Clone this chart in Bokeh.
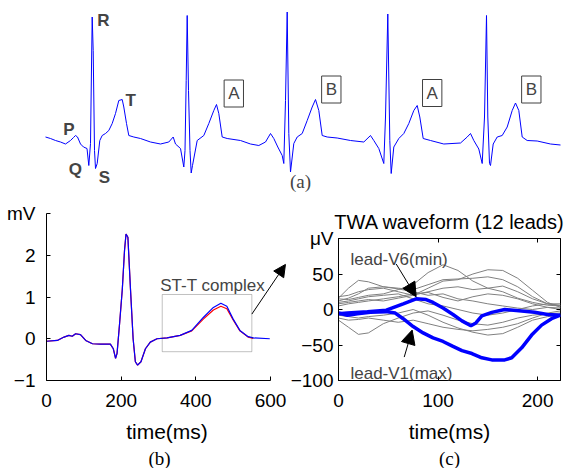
from bokeh.plotting import figure
from bokeh.models import Range1d, Label, Arrow, NormalHead, BoxAnnotation, FixedTicker, LinearAxis, Title
from bokeh.layouts import column, row
from bokeh.embed import file_html
from bokeh.resources import INLINE

FONT = "Liberation Sans"
SERIF = "Liberation Serif"
BLUE = "#0000ff"
RED = "#ff0000"
GRAY = "#808080"

# ---------------- (a) raw ECG strip ----------------
ecg_t = [0, 50, 100, 150, 200, 250, 280, 300, 320, 350,
         380, 415, 433, 450, 460, 467, 477, 490, 500, 517,
         543, 567, 600, 633, 667, 700, 733, 767, 783, 810,
         833, 883, 950, 1050, 1150, 1233, 1277, 1300, 1350, 1383,
         1395, 1407, 1417, 1430, 1445, 1457, 1470, 1517, 1583, 1633,
         1683, 1710, 1733, 1767, 1817, 1950, 2050, 2133, 2200, 2250,
         2283, 2323, 2367, 2383, 2400, 2417, 2433, 2450, 2483, 2517,
         2567, 2617, 2667, 2700, 2733, 2767, 2817, 2917, 3050, 3183,
         3250, 3283, 3333, 3383, 3400, 3423, 3443, 3457, 3483, 3533,
         3583, 3633, 3683, 3717, 3743, 3777, 3850, 3983, 4150, 4217,
         4250, 4283, 4333, 4367, 4390, 4410, 4423, 4440, 4450, 4477,
         4517, 4567, 4617, 4667, 4700, 4733, 4767, 4817, 4917, 5050,
         5150]
ecg_mv = [0.07, 0.04, 0.0, -0.03, -0.07, 0.0, 0.06, 0.10, 0.07, -0.07,
          -0.13, -0.16, -0.50, -0.06, 1.47, 2.47, 1.80, -0.20, -0.56, -0.46,
          0.0, 0.10, 0.14, 0.20, 0.34, 0.54, 0.80, 0.82, 0.67, 0.34,
          0.10, 0.07, 0.04, -0.03, -0.07, -0.03, 0.07, -0.07, -0.16, -0.53,
          -0.20, 1.20, 2.50, 1.00, -0.20, -0.65, -0.50, 0.0, 0.10, 0.34,
          0.60, 0.72, 0.54, 0.07, 0.04, 0.0, -0.07, -0.10, -0.03, 0.14,
          0.04, -0.13, -0.30, -0.46, 0.80, 2.57, 0.14, -0.63, -0.06, 0.07,
          0.14, 0.40, 0.67, 0.82, 0.60, 0.10, 0.07, 0.05, 0.0, -0.03,
          0.10, 0.0, -0.16, -0.46, 0.47, 2.53, 0.0, -0.66, -0.13, 0.04,
          0.14, 0.34, 0.60, 0.70, 0.47, 0.04, 0.0, -0.07, -0.05, 0.07,
          0.14, 0.0, -0.17, -0.46, 0.47, 2.50, 0.47, -0.46, -0.50, -0.07,
          0.07, 0.10, 0.27, 0.60, 0.75, 0.60, 0.07, 0.0, -0.01, -0.07,
          -0.09]
wave_names = ["P", "Q", "R", "S", "T"]
wave_t = [177, 233, 517, 533, 800]
wave_mv = [0.23, -0.58, 2.40, -0.73, 0.81]
alt_names = ["A", "B", "A", "B"]
alt_t = [1883, 2858, 3867, 4858]
alt_mv = [0.94, 1.02, 0.95, 1.02]

# ---------------- (b) averaged beat ----------------
beat_t = [0, 29, 47, 60, 69, 78, 91, 105, 123, 145,
          171, 179, 185, 189, 196, 203, 209, 213, 218, 225,
          232, 238, 244, 253, 265, 278, 296, 323, 358, 389,
          420, 447, 467, 483, 500, 518, 540, 554, 598]
beat_blue = [-0.06, -0.04, 0.04, 0.08, 0.06, 0.12, 0.10, -0.04, -0.12, -0.13,
             -0.13, -0.24, -0.47, -0.35, 0.39, 1.18, 2.12, 2.51, 2.43, 1.18,
             0.0, -0.55, -0.63, -0.55, -0.24, -0.08, 0.0, 0.02, 0.08, 0.20,
             0.51, 0.75, 0.85, 0.78, 0.47, 0.20, 0.05, 0.02, 0.0]
beat_red = [-0.06, -0.04, 0.04, 0.08, 0.06, 0.12, 0.10, -0.04, -0.12, -0.13,
            -0.13, -0.24, -0.47, -0.35, 0.39, 1.18, 2.12, 2.51, 2.43, 1.18,
            0.0, -0.55, -0.63, -0.55, -0.24, -0.08, 0.0, 0.02, 0.08, 0.19,
            0.47, 0.69, 0.78, 0.72, 0.45, 0.19, 0.04, 0.01]
st_box = dict(left=310, right=550, bottom=-0.31, top=1.06)
b_xticks = [0, 200, 400, 600]
b_yticks = [-1, 0, 1, 2, 3]

# ---------------- (c) TWA waveforms ----------------
c_x = [0, 10, 20, 30, 45, 60, 75, 90, 105, 120, 135, 150, 165, 180, 195, 210, 223]
gray_leads = [
    [15, 14, 17, 20, 22, 28, 35, 52, 63, 55, 40, 30, 25, 16, 10, 6, 5],
    [8, 10, 12, 14, 12, 16, 20, 30, 40, 42, 50, 56, 55, 44, 27, 10, 3],
    [12, 16, 22, 30, 32, 30, 28, 35, 42, 43, 44, 46, 42, 32, 18, 8, 5],
    [16, 30, 41, 39, 32, 29, 25, 20, 22, 15, 12, 8, 5, 2, 0, 3, 2],
    [5, 8, 10, 12, 15, 18, 22, 24, 17, 12, 18, 22, 20, 15, 8, 3, 0],
    [-15, -25, -35, -33, -20, -12, -5, -2, -8, -15, -20, -22, -18, -12, -8, -6, -5],
    [-8, -10, -12, -10, -8, -5, 0, -8, -18, -26, -32, -36, -34, -25, -15, -10, -8],
    [-12, -15, -14, -12, -15, -18, -15, -20, -25, -28, -30, -28, -25, -20, -12, -5, -2],
    [10, 12, 15, 18, 20, 22, 15, 8, 5, 0, -5, -8, -5, 0, 5, 8, 8],
    [18, 20, 25, 28, 30, 25, 20, 25, 30, 32, 28, 30, 33, 25, 15, 8, 6],
]
v1_x = [0, 9, 19, 32, 48, 57, 65, 75, 85, 95, 105, 115, 124, 134, 144, 154, 167, 174, 184, 194, 204, 214, 223]
v1_y = [-5, -8, -6, -4, -3, -5, -13, -24, -33, -40, -45, -52, -58, -62, -68, -71, -71, -68, -54, -36, -22, -13, -8]
v6_x = [0, 9, 29, 48, 65, 78, 88, 95, 105, 115, 124, 133, 138, 144, 154, 167, 184, 197, 210, 223]
v6_y = [-6, -5, -3, -1, 8, 15, 14, 10, 2, -7, -16, -23, -19, -9, -4, 0, -2, -4, -7, -8]
c_xticks = [0, 100, 200]
c_yticks = [-100, -50, 0, 50, 100]


def style_axis(ax, ticks, size="19px"):
    ax.ticker = FixedTicker(ticks=ticks)
    ax.major_tick_in = 4
    ax.major_tick_out = 0
    ax.minor_tick_in = 0
    ax.minor_tick_out = 0
    ax.minor_tick_line_color = None
    ax.axis_line_color = "black"
    ax.major_tick_line_color = "black"
    ax.major_label_text_font = FONT
    ax.major_label_text_font_size = size
    ax.major_label_text_color = "black"
    ax.axis_label_text_font = FONT
    ax.axis_label_text_font_size = "21px"
    ax.axis_label_text_font_style = "normal"
    ax.axis_label_text_color = "black"


def panel_title(text, fig, side, font, size, align="center", offset=0, standoff=0, valign="bottom"):
    t = Title(text=text, align=align, offset=offset, text_font=font, text_font_size=size,
              text_font_style="normal", text_color="black", standoff=standoff,
              vertical_align=valign)
    fig.add_layout(t, side)


# ---------- panel (a) ----------
pa = figure(width=571, height=193, x_range=Range1d(-450, 5260), y_range=Range1d(-1.06, 2.80),
            output_backend="svg", toolbar_location=None, x_axis_type=None, y_axis_type=None,
            min_border=0, title=None)
pa.outline_line_color = None
pa.grid.visible = False
pa.line(ecg_t, ecg_mv, color=BLUE, line_width=1)
for n, t, v in zip(wave_names, wave_t, wave_mv):
    pa.add_layout(Label(x=t, y=v, text=n, text_font=FONT, text_font_size="17px",
                        text_font_style="bold", text_align="left", text_baseline="alphabetic"))
for n, t, v in zip(alt_names, alt_t, alt_mv):
    pa.add_layout(Label(x=t, y=v, text=n, text_font=FONT, text_font_size="17px",
                        text_align="center", text_baseline="middle", padding=4,
                        border_line_color="#404040", border_line_width=1,
                        background_fill_color="white"))
pa.add_layout(Label(x=2550, y=-0.82, text="(a)", text_font=SERIF, text_font_size="19px",
                    text_align="center", text_baseline="middle"))

# ---------- panel (b) ----------
pb = figure(width=287, height=275, x_range=Range1d(0, 645.5), y_range=Range1d(-1, 3),
            output_backend="svg", toolbar_location=None, title=None)
pb.min_border_left = 46
pb.min_border_right = 0
pb.min_border_top = 20
pb.min_border_bottom = 85
pb.outline_line_color = None
pb.grid.visible = False
style_axis(pb.xaxis[0], b_xticks)
style_axis(pb.yaxis[0], b_yticks)
pb.xaxis.bounds = (0, 600)
pb.yaxis.bounds = (-1, 3)
pb.xaxis.major_label_standoff = 13
pb.yaxis.major_label_standoff = 11
pb.xaxis.axis_label = "time(ms)"
pb.xaxis.axis_label_standoff = 10
pb.yaxis.major_label_overrides = {3: "mV"}
pb.line(beat_t[:len(beat_red)], beat_red, color=RED, line_width=1.2)
pb.line(beat_t, beat_blue, color=BLUE, line_width=1.2)
pb.add_layout(BoxAnnotation(left=st_box["left"], right=st_box["right"], bottom=st_box["bottom"],
                            top=st_box["top"], fill_alpha=0, line_color="#333333", line_width=1))
pb.add_layout(Label(x=(st_box["left"] + st_box["right"]) / 2 + 15, y=1.27, text="ST-T complex",
                    text_font=FONT, text_font_size="17px", text_align="center",
                    text_baseline="alphabetic"))
pb.add_layout(Arrow(end=NormalHead(size=12, fill_color="black", line_color="black"),
                    x_start=550, y_start=0.59, x_end=640, y_end=1.78,
                    line_color="black", line_width=1))
panel_title("(b)", pb, "below", SERIF, "19px", align="left", offset=102)

# ---------- panel (c) ----------
pc = figure(width=284, height=275, x_range=Range1d(0, 223), y_range=Range1d(-100, 100),
            output_backend="svg", toolbar_location=None, title=None)
pc.min_border_left = 43
pc.min_border_right = 11
pc.min_border_top = 45
pc.min_border_bottom = 85
pc.outline_line_color = "black"
pc.grid.visible = False
style_axis(pc.xaxis[0], c_xticks)
style_axis(pc.yaxis[0], c_yticks)
pc.xaxis.major_label_standoff = 13
pc.yaxis.major_label_standoff = 5
pc.yaxis.axis_label = None
pc.yaxis.axis_label_standoff = 0
pc.xaxis.axis_label = "time(ms)"
pc.xaxis.axis_label_standoff = 10
pc.yaxis.major_label_overrides = {100: "μV"}
for side, ticks in (("right", c_yticks), ("above", c_xticks)):
    ax = LinearAxis(ticker=FixedTicker(ticks=ticks), major_tick_in=4, major_tick_out=0,
                    minor_tick_in=0, minor_tick_out=0,
                    minor_tick_line_color=None, axis_line_color=None,
                    major_label_text_color=None, major_label_text_font_size="1px",
                    major_label_standoff=0, axis_label_standoff=0)
    pc.add_layout(ax, side)
pc.multi_line([c_x] * len(gray_leads), gray_leads, color=GRAY, line_width=1)
pc.line(v6_x, v6_y, color=BLUE, line_width=3.5)
pc.line(v1_x, v1_y, color=BLUE, line_width=3.5)
pc.add_layout(Label(x=12, y=71, text="lead-V6(min)", text_font=FONT, text_font_size="17px",
                    text_align="left", text_baseline="alphabetic"))
pc.add_layout(Label(x=12, y=-90, text="lead-V1(max)", text_font=FONT, text_font_size="17px",
                    text_align="left", text_baseline="alphabetic"))
pc.add_layout(Arrow(end=NormalHead(size=14, fill_color="black", line_color="black"),
                    x_start=58, y_start=64, x_end=78, y_end=18, line_color="black", line_width=1))
pc.add_layout(Arrow(end=NormalHead(size=14, fill_color="black", line_color="black"),
                    x_start=66, y_start=-67, x_end=74, y_end=-29, line_color="black", line_width=1))
panel_title("TWA waveform (12 leads)", pc, "above", FONT, "20px", standoff=7, valign="top")
panel_title("(c)", pc, "below", SERIF, "19px")

layout = column(pa, row(column(pb), column(pc)))
open("out.html", "w").write(file_html(layout, INLINE))
